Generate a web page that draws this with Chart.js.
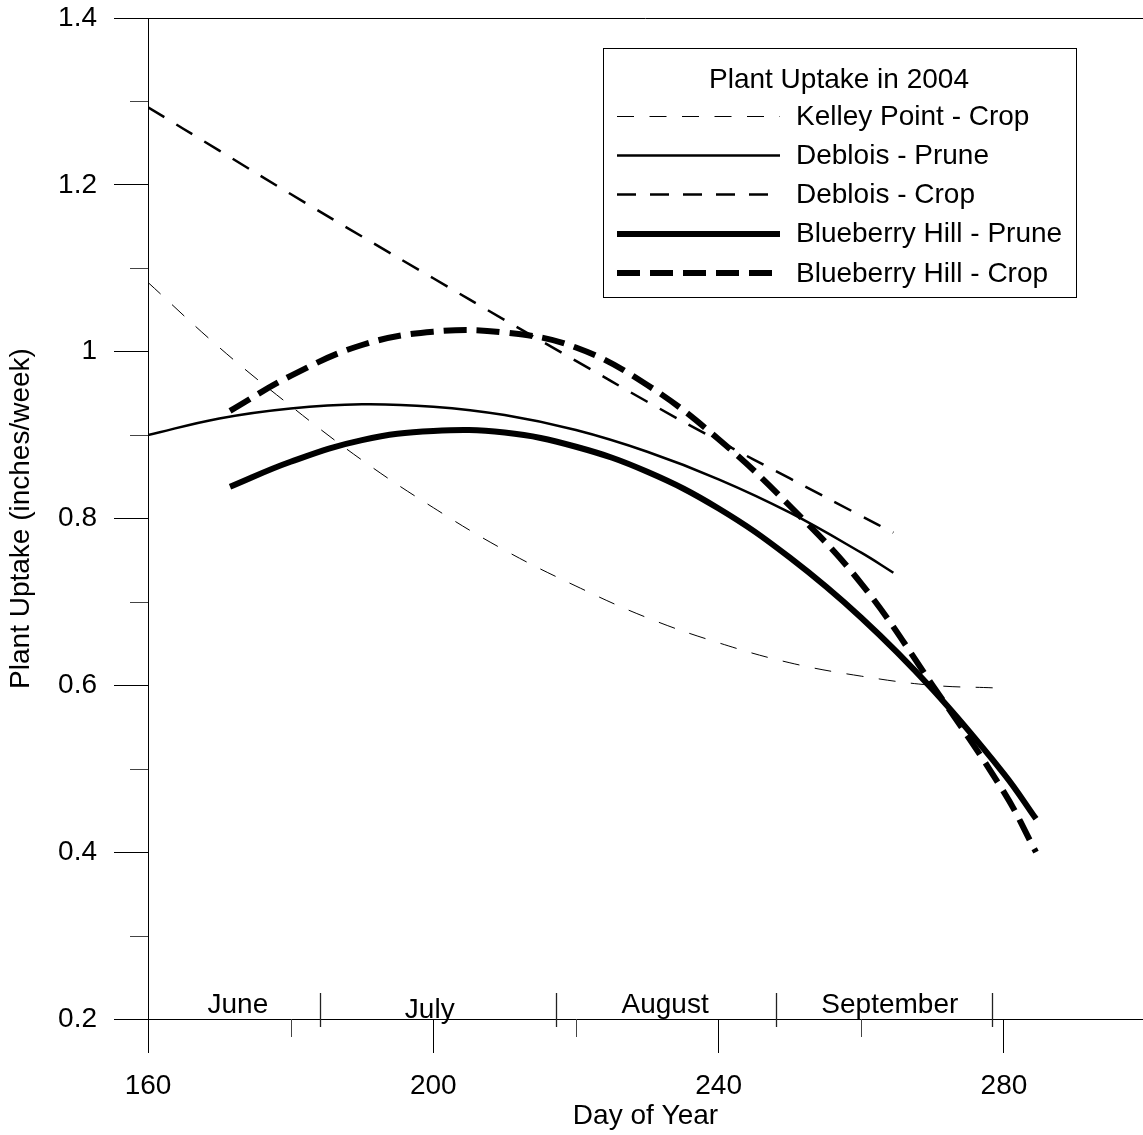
<!DOCTYPE html>
<html>
<head>
<meta charset="utf-8">
<title>Plant Uptake in 2004</title>
<script src="https://cdn.jsdelivr.net/npm/chart.js@4.4.1/dist/chart.umd.min.js"></script>
<style>
  html, body { margin: 0; padding: 0; background: #ffffff; }
  #wrap { width: 1143px; height: 1135px; }
</style>
</head>
<body>
<div id="wrap"><canvas id="chart" width="1143" height="1135"></canvas></div>
<script>
// ---- data: fitted plant uptake (inches/week) by day of year, 2004 ----
const seriesNames = [
  'Kelley Point - Crop',
  'Deblois - Prune',
  'Deblois - Crop',
  'Blueberry Hill - Prune',
  'Blueberry Hill - Crop'
];

const kelleyCropDays   = [160, 170, 180, 190, 200, 210, 220, 230, 240, 250, 260, 270, 278.5];
const kelleyCropUptake = [1.083, 1.005, 0.935, 0.870, 0.813, 0.762, 0.719, 0.681, 0.651, 0.627, 0.611, 0.600, 0.597];

const debloisPruneDays   = [160, 170, 180, 190, 200, 210, 220, 230, 240, 250, 260, 264.5];
const debloisPruneUptake = [0.900, 0.920, 0.932, 0.937, 0.934, 0.924, 0.906, 0.880, 0.847, 0.807, 0.759, 0.735];

const debloisCropDays   = [160, 170, 180, 190, 200, 210, 220, 230, 240, 250, 260, 264.5];
const debloisCropUptake = [1.293, 1.241, 1.189, 1.138, 1.088, 1.038, 0.989, 0.940, 0.893, 0.848, 0.803, 0.783];

const bbhPruneDays   = [171.5, 180, 190, 200, 210, 220, 230, 240, 250, 260, 270, 280, 284.5];
const bbhPruneUptake = [0.838, 0.868, 0.894, 0.905, 0.903, 0.886, 0.856, 0.812, 0.753, 0.681, 0.595, 0.494, 0.440];

const bbhCropDays   = [171.5, 180, 190, 200, 210, 220, 230, 240, 250, 260, 270, 280, 284.5];
const bbhCropUptake = [0.929, 0.971, 1.008, 1.024, 1.023, 1.005, 0.960, 0.895, 0.815, 0.722, 0.600, 0.472, 0.400];

// ---- axis ticks ----
const xTickValues = [160, 180, 200, 220, 240, 260, 280];
const xTickLabels = ['160', '', '200', '', '240', '', '280'];
const yTickValues = [0.2, 0.3, 0.4, 0.5, 0.6, 0.7, 0.8, 0.9, 1.0, 1.1, 1.2, 1.3, 1.4];
const yTickLabels = ['0.2', '', '0.4', '', '0.6', '', '0.8', '', '1', '', '1.2', '', '1.4'];

// ---- month band along the day axis ----
const monthNames        = ['June', 'July', 'August', 'September'];
const monthLabelDays    = [172.6, 199.5, 232.5, 264.0];
const monthBoundaryDays = [184.1, 217.2, 248.0, 278.3];

const legendTitle = 'Plant Uptake in 2004';
const xAxisTitle  = 'Day of Year';
const yAxisTitle  = 'Plant Uptake (inches/week)';

// ---- styling ----
const FONT = 'Liberation Sans, Arial, Helvetica, sans-serif';
const FS = 28;

function toPoints(days, vals) {
  return days.map((d, i) => ({ x: d, y: vals[i] }));
}

const lineStyles = [
  { borderWidth: 1,   borderDash: [17, 15.5] },
  { borderWidth: 2.5, borderDash: [] },
  { borderWidth: 2.5, borderDash: [19, 14] },
  { borderWidth: 6,   borderDash: [] },
  { borderWidth: 6,   borderDash: [23, 10] }
];

const seriesData = [
  toPoints(kelleyCropDays, kelleyCropUptake),
  toPoints(debloisPruneDays, debloisPruneUptake),
  toPoints(debloisCropDays, debloisCropUptake),
  toPoints(bbhPruneDays, bbhPruneUptake),
  toPoints(bbhCropDays, bbhCropUptake)
];

const datasets = seriesNames.map((name, i) => ({
  label: name,
  data: seriesData[i],
  borderColor: '#000000',
  backgroundColor: '#000000',
  borderWidth: lineStyles[i].borderWidth,
  borderDash: lineStyles[i].borderDash,
  borderCapStyle: 'butt',
  borderJoinStyle: 'round',
  pointRadius: 0,
  pointHoverRadius: 0,
  tension: 0.4,
  fill: false
}));

const isLabelled = (labels, idx) => labels[idx] !== undefined && labels[idx] !== '';

// frame line on top, minor ticks, month band and the boxed key
const decorPlugin = {
  id: 'decor',
  afterDraw(chart) {
    const { ctx, chartArea: a, scales: { x, y } } = chart;
    ctx.save();
    ctx.strokeStyle = '#000';
    ctx.lineWidth = 1;

    // top frame line
    const topY = Math.round(a.top) + 0.5;
    ctx.beginPath();
    ctx.moveTo(a.left, topY);
    ctx.lineTo(a.right, topY);
    ctx.stroke();

    // minor ticks
    ctx.strokeStyle = '#444';
    xTickValues.forEach((v, i) => {
      if (isLabelled(xTickLabels, i) || v >= x.max) return;
      const px = Math.round(x.getPixelForValue(v)) + 0.5;
      ctx.beginPath();
      ctx.moveTo(px, a.bottom);
      ctx.lineTo(px, a.bottom + 18);
      ctx.stroke();
    });
    yTickValues.forEach((v, i) => {
      if (isLabelled(yTickLabels, i)) return;
      const py = Math.round(y.getPixelForValue(v)) + 0.5;
      ctx.beginPath();
      ctx.moveTo(a.left - 18, py);
      ctx.lineTo(a.left, py);
      ctx.stroke();
    });

    // month boundaries and names
    ctx.strokeStyle = '#222';
    ctx.lineWidth = 1.3;
    monthBoundaryDays.forEach(d => {
      const px = Math.round(x.getPixelForValue(d)) + 0.5;
      ctx.beginPath();
      ctx.moveTo(px, a.bottom - 26);
      ctx.lineTo(px, a.bottom + 8);
      ctx.stroke();
    });
    ctx.fillStyle = '#000';
    ctx.font = FS + 'px ' + FONT;
    ctx.textAlign = 'center';
    ctx.textBaseline = 'middle';
    monthNames.forEach((m, i) => {
      const dy = (m === 'July') ? -9 : -14;
      ctx.fillText(m, x.getPixelForValue(monthLabelDays[i]), a.bottom + dy);
    });

    // key
    const box = { left: 603, top: 48, right: 1076, bottom: 297 };
    ctx.fillStyle = '#fff';
    ctx.fillRect(box.left, box.top, box.right - box.left, box.bottom - box.top);
    ctx.strokeStyle = '#000';
    ctx.lineWidth = 1;
    ctx.strokeRect(box.left + 0.5, box.top + 0.5, box.right - box.left, box.bottom - box.top);

    ctx.fillStyle = '#000';
    ctx.textAlign = 'center';
    ctx.fillText(legendTitle, 839, 80);

    const rowY0 = 116, rowGap = 39.2;
    chart.data.datasets.forEach((ds, i) => {
      const ry = rowY0 + i * rowGap;
      ctx.save();
      ctx.strokeStyle = ds.borderColor;
      ctx.lineWidth = ds.borderWidth;
      ctx.setLineDash(ds.borderDash || []);
      ctx.lineCap = 'butt';
      ctx.beginPath();
      const ly = ds.borderWidth % 2 ? Math.round(ry) + 0.5 : Math.round(ry);
      ctx.moveTo(617, ly);
      ctx.lineTo(780, ly);
      ctx.stroke();
      ctx.restore();
      ctx.textAlign = 'left';
      ctx.fillText(ds.label, 796, ry + 1);
    });

    ctx.restore();
  }
};

const majorTickColor = (labels) => (c) =>
  (c.tick && isLabelled(labels, c.index)) ? '#000' : 'rgba(0,0,0,0)';

new Chart(document.getElementById('chart'), {
  type: 'line',
  data: { datasets },
  plugins: [decorPlugin],
  options: {
    responsive: false,
    animation: false,
    devicePixelRatio: 1,
    layout: { padding: { top: 18, right: 0, left: 0, bottom: 0 } },
    plugins: {
      legend: { display: false },
      tooltip: { enabled: false },
      title: { display: false }
    },
    scales: {
      x: {
        type: 'linear',
        min: 160,
        max: 299.5,
        afterBuildTicks: s => { s.ticks = xTickValues.map(v => ({ value: v })); },
        afterFit: s => { s.height = 116; s.paddingLeft = 0; s.paddingRight = 0; },
        ticks: {
          autoSkip: false,
          maxRotation: 0,
          padding: 16,
          color: '#000',
          font: { family: FONT, size: FS },
          callback: (v, i) => xTickLabels[i]
        },
        grid: {
          drawOnChartArea: false,
          drawTicks: true,
          tickLength: 34,
          tickWidth: 1,
          tickColor: majorTickColor(xTickLabels)
        },
        border: { display: true, color: '#000', width: 1 },
        title: {
          display: true,
          text: xAxisTitle,
          color: '#000',
          font: { family: FONT, size: FS },
          padding: { top: 0, bottom: 2 }
        }
      },
      y: {
        type: 'linear',
        min: 0.2,
        max: 1.4,
        afterBuildTicks: s => { s.ticks = yTickValues.map(v => ({ value: v })); },
        afterFit: s => { s.width = 148; s.paddingTop = 0; s.paddingBottom = 0; },
        ticks: {
          autoSkip: false,
          padding: 17,
          color: '#000',
          font: { family: FONT, size: FS },
          callback: (v, i) => yTickLabels[i]
        },
        grid: {
          drawOnChartArea: false,
          drawTicks: true,
          tickLength: 34,
          tickWidth: 1,
          tickColor: majorTickColor(yTickLabels)
        },
        border: { display: true, color: '#000', width: 1 },
        title: {
          display: true,
          text: yAxisTitle,
          color: '#000',
          font: { family: FONT, size: FS },
          padding: { top: 4, bottom: 0 }
        }
      }
    }
  }
});
</script>
</body>
</html>
